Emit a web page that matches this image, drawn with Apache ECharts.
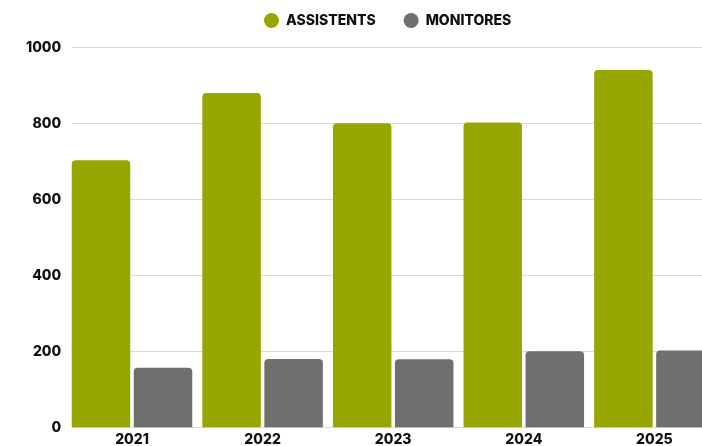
<!DOCTYPE html>
<html>
<head>
    <meta charset="utf-8">
    <title>Assistents i monitores</title>
    <script src="https://cdn.jsdelivr.net/npm/echarts@6/dist/echarts.min.js"></script>
    <style>
        html, body { margin: 0; padding: 0; background: #fff; }
        #chart1 { width: 702px; height: 446px; }
    </style>
</head>
<body>
<div id="chart1"></div>
<script type="text/javascript">
    // dades
    var anys = ['2021', '2022', '2023', '2024', '2025'];
    var assistents = [703, 880, 800, 802, 940];
    var monitores = [157, 180, 179, 200, 202];
    var yTicks = [0, 200, 400, 600, 800, 1000];

    var verd = '#97a700';
    var gris = '#6f6f6f';
    var font = 'Inter';

    var myChart1 = echarts.init(document.getElementById('chart1'));

    myChart1.setOption({
        animation: false,
        legend: {
            data: ['ASSISTENTS', 'MONITORES'],
            left: 264,
            top: 13,
            padding: 0,
            icon: 'circle',
            itemWidth: 15,
            itemHeight: 15,
            itemGap: 28,
            textStyle: {
                fontFamily: font,
                fontWeight: 800,
                fontSize: 14,
                color: '#111',
                padding: [0, 0, 0, 2]
            }
        },
        // grid 0 per les barres (surt per la dreta), grid 1 per les línies i l'eix Y
        grid: [
            {left: 66.7, top: 47.3, height: 380, width: 653, outerBoundsMode: 'none', containLabel: false},
            {left: 71.7, top: 47.3, height: 380, right: 0, outerBoundsMode: 'none', containLabel: false}
        ],
        xAxis: [
            {
                type: 'category',
                gridIndex: 0,
                data: anys,
                axisLine: {show: false},
                axisTick: {show: false},
                axisLabel: {
                    margin: 5.5,
                    fontFamily: font,
                    fontWeight: 800,
                    fontSize: 14,
                    color: '#111'
                }
            },
            {type: 'value', gridIndex: 1, show: false}
        ],
        yAxis: [
            {type: 'value', gridIndex: 0, min: yTicks[0], max: yTicks[yTicks.length - 1], show: false},
            {
                type: 'value',
                gridIndex: 1,
                min: yTicks[0],
                max: yTicks[yTicks.length - 1],
                interval: yTicks[1] - yTicks[0],
                axisLine: {show: false},
                axisTick: {show: false},
                splitLine: {lineStyle: {color: '#d9d9d9', width: 1}},
                axisLabel: {
                    margin: 10.5,
                    formatter: function (v) { return String(v); },
                    fontFamily: font,
                    fontWeight: 800,
                    fontSize: 14,
                    color: '#111'
                }
            }
        ],
        series: [
            {
                name: 'ASSISTENTS',
                type: 'bar',
                xAxisIndex: 0,
                yAxisIndex: 0,
                data: assistents,
                barGap: '6%',
                barCategoryGap: '7.7%',
                itemStyle: {color: verd, borderRadius: [4, 4, 0, 0]}
            },
            {
                name: 'MONITORES',
                type: 'bar',
                xAxisIndex: 0,
                yAxisIndex: 0,
                data: monitores,
                itemStyle: {color: gris, borderRadius: [4, 4, 0, 0]}
            }
        ]
    });
</script>
</body>
</html>
